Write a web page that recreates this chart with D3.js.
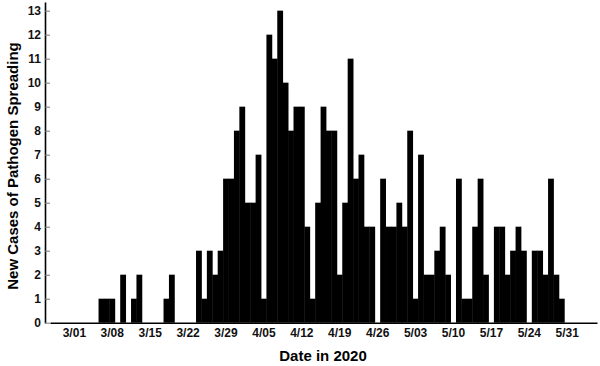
<!DOCTYPE html>
<html lang="en">
<head>
<meta charset="UTF-8">
<script src="https://d3js.org/d3.v7.min.js"></script>
<title>New Cases of Pathogen Spreading</title>
<style>
body { margin: 0; background: #fff; }
svg { display: block; font-family: "Liberation Sans", Arial, sans-serif; }
.axis text { font-size: 12px; font-weight: bold; fill: #111; }
.title { font-size: 15px; font-weight: bold; fill: #000; }
</style>
</head>
<body>
<svg width="600" height="366"></svg>
<script>
// daily new cases, 2/26/2020 .. 6/05/2020
const firstDay = new Date(2020, 1, 26);
const lastDay = new Date(2020, 5, 5);
const cases = [
  0, 0, 0, 0,                                   // 2/26 - 2/29
  0, 0, 0, 0, 0, 1, 1, 1, 0, 2,                 // 3/01 - 3/10
  0, 1, 2, 0, 0, 0, 0, 1, 2, 0,                 // 3/11 - 3/20
  0, 0, 0, 3, 1, 3, 2, 3, 6, 6, 8,              // 3/21 - 3/31
  9, 5, 5, 7, 1, 12, 11, 13, 10, 8,             // 4/01 - 4/10
  9, 9, 4, 1, 5, 9, 8, 8, 2, 5,                 // 4/11 - 4/20
  11, 6, 7, 4, 4, 0, 6, 4, 4, 5,                // 4/21 - 4/30
  4, 8, 1, 7, 2, 2, 3, 4, 2, 0,                 // 5/01 - 5/10
  6, 1, 1, 4, 6, 2, 0, 4, 4, 2,                 // 5/11 - 5/20
  3, 4, 3, 0, 3, 3, 2, 6, 2, 1, 0,              // 5/21 - 5/31
  0, 0, 0, 0, 0                                 // 6/01 - 6/05
];
const tickLabels = ["3/01", "3/08", "3/15", "3/22", "3/29", "4/05", "4/12",
                    "4/19", "4/26", "5/03", "5/10", "5/17", "5/24", "5/31"];
const yTicks = [0, 1, 2, 3, 4, 5, 6, 7, 8, 9, 10, 11, 12, 13];

const fmt = d3.timeFormat("%-m/%d");
const days = d3.timeDay.range(firstDay, d3.timeDay.offset(lastDay, 1)).map(fmt);
const data = days.map((d, i) => ({ day: d, value: cases[i] }));

const svg = d3.select("svg");

const x = d3.scaleBand()
    .domain(days)
    .range([50, 597])
    .paddingInner(0)
    .paddingOuter(0);

const y = d3.scaleLinear()
    .domain([0, 13.36])
    .range([322.7, 2]);

// bars
svg.append("g")
  .selectAll("rect")
  .data(data.filter(d => d.value > 0))
  .join("rect")
    .attr("x", d => x(d.day) - 0.2)
    .attr("width", x.bandwidth() + 0.4)
    .attr("y", d => y(d.value))
    .attr("height", d => y(0) - y(d.value))
    .attr("fill", "#000");

// y axis
const yAxis = svg.append("g")
    .attr("class", "axis")
    .attr("transform", "translate(45,0)")
    .call(d3.axisLeft(y).tickValues(yTicks).tickSizeInner(-5).tickSizeOuter(0).tickPadding(4));
yAxis.select(".domain").attr("stroke", "#000").attr("stroke-width", 1.6);
yAxis.selectAll(".tick line").attr("stroke", "#777");

// x axis
const xAxis = svg.append("g")
    .attr("class", "axis")
    .attr("transform", "translate(0," + y(0) + ")")
    .call(d3.axisBottom(x).tickValues(tickLabels).tickSize(0).tickPadding(5.5));
xAxis.select(".domain").attr("stroke", "#000").attr("stroke-width", 1.6);

// titles
svg.append("text")
    .attr("class", "title")
    .attr("x", 323)
    .attr("y", 361)
    .attr("text-anchor", "middle")
    .text("Date in 2020");

svg.append("text")
    .attr("class", "title")
    .attr("transform", "translate(18,166) rotate(-90)")
    .attr("text-anchor", "middle")
    .text("New Cases of Pathogen Spreading");
</script>
</body>
</html>
